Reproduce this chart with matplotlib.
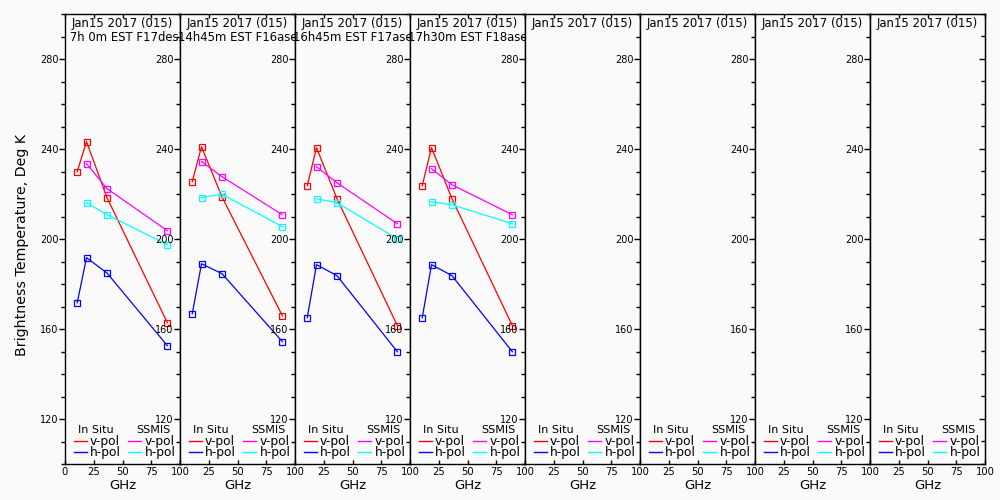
import matplotlib
matplotlib.use("Agg")
import matplotlib.pyplot as plt
from matplotlib.ticker import MultipleLocator

# ---- data ----
insitu_ghz = [10.65, 18.7, 36.5, 89.0]
ssmis_ghz = [18.7, 36.5, 89.0]

title_line1 = ["Jan15 2017 (015)"] * 8
title_line2 = [" 7h 0m EST F17des", "14h45m EST F16asc", "16h45m EST F17asc",
               "17h30m EST F18asc", "", "", "", ""]

insitu_v = [[230.0, 243.3, 218.4, 162.8],
            [225.5, 241.0, 218.7, 165.9],
            [223.7, 240.6, 217.9, 161.5],
            [223.7, 240.6, 217.9, 161.5],
            None, None, None, None]
insitu_h = [[171.7, 191.7, 184.9, 152.6],
            [166.8, 189.0, 184.6, 154.4],
            [165.0, 188.6, 183.7, 149.9],
            [165.0, 188.6, 183.7, 149.9],
            None, None, None, None]
ssmis_v = [[233.5, 222.4, 203.7],
           [234.4, 227.7, 210.8],
           [232.1, 225.0, 206.8],
           [231.2, 224.1, 210.8],
           None, None, None, None]
ssmis_h = [[216.1, 210.8, 197.5],
           [218.4, 219.9, 205.5],
           [217.9, 216.1, 200.1],
           [216.6, 215.2, 206.8],
           None, None, None, None]

x_ticks = [0, 25, 50, 75, 100]
y_ticks = [120, 160, 200, 240, 280]

C_INV = "#ff0000"
C_INH = "#0000ff"
C_SSV = "#ff00ff"
C_SSH = "#00ffff"
BG = "#fafafa"

plt.rcParams['font.family'] = ['DejaVu Sans']

fig = plt.figure(figsize=(10, 5), dpi=100, facecolor=BG)

left0 = 65 / 1000
pw = 115 / 1000
bottom = 36 / 500
height = 450 / 500

for i in range(8):
    ax = fig.add_axes([left0 + i * pw, bottom, pw, height])
    ax.set_facecolor(BG)
    ax.set_xlim(0, 100)
    ax.set_ylim(100, 300)
    for s in ax.spines.values():
        s.set_linewidth(1.0)
        s.set_color("black")

    ax.set_xticks(x_ticks)
    ax.set_xticklabels([("" if (i > 0 and t == 0) else str(t)) for t in x_ticks])
    ax.set_yticks(y_ticks)
    ax.set_yticklabels([str(t) for t in y_ticks])
    ax.yaxis.set_minor_locator(MultipleLocator(10))
    ax.tick_params(axis='x', which='major', direction='in', length=3, width=1,
                   top=True, bottom=True, labelsize=7.2, pad=2)
    ax.tick_params(axis='y', which='major', direction='out', length=4, width=1,
                   left=True, right=False, labelsize=7.0, pad=0.5)
    ax.tick_params(axis='y', which='minor', direction='out', length=3, width=1,
                   left=True, right=False)

    if insitu_v[i] is not None:
        ax.plot(insitu_ghz, insitu_v[i], color=C_INV, lw=0.9, marker='s', ms=3.8,
                mfc='none', mec=C_INV, mew=0.9)
        ax.plot(insitu_ghz, insitu_h[i], color=C_INH, lw=0.9, marker='s', ms=3.8,
                mfc='none', mec=C_INH, mew=0.9)
        ax.plot(ssmis_ghz, ssmis_v[i], color=C_SSV, lw=0.9, marker='s', ms=3.8,
                mfc='none', mec=C_SSV, mew=0.9)
        ax.plot(ssmis_ghz, ssmis_h[i], color=C_SSH, lw=0.9, marker='s', ms=3.8,
                mfc='none', mec=C_SSH, mew=0.9)

    # titles
    ax.text(0.5, 0.978, title_line1[i], transform=ax.transAxes, ha='center',
            va='center', fontsize=8.4, clip_on=False)
    if title_line2[i]:
        ax.text(0.5, 0.947, title_line2[i], transform=ax.transAxes, ha='center',
                va='center', fontsize=8.4, clip_on=False)

    # legend key
    ax.text(0.268, 0.0755, "In Situ", transform=ax.transAxes, ha='center',
            va='center', fontsize=8.0)
    ax.text(0.765, 0.0755, "SSMIS", transform=ax.transAxes, ha='center',
            va='center', fontsize=8.0)
    for (x0, x1, xt, ys, cols) in [(0.075, 0.187, 0.215, (0.0505, 0.026), (C_INV, C_INH)),
                                   (0.548, 0.665, 0.695, (0.0505, 0.026), (C_SSV, C_SSH))]:
        for yy, cc, lab in zip(ys, cols, ["v-pol", "h-pol"]):
            ax.plot([x0, x1], [yy, yy], color=cc, lw=1.0, transform=ax.transAxes)
            ax.text(xt, yy, lab, transform=ax.transAxes, ha='left', va='center',
                    fontsize=8.8)

    ax.set_xlabel("GHz", fontsize=9.5)
    ax.xaxis.set_label_coords(0.5, -0.0467)
    ax.xaxis.label.set_va('center')

    if i == 7:
        tw = ax.twinx()
        tw.set_ylim(100, 300)
        tw.set_yticks(y_ticks)
        tw.yaxis.set_minor_locator(MultipleLocator(10))
        tw.tick_params(axis='y', which='both', direction='in', length=3, width=1,
                       labelright=False)
        tw.tick_params(axis='y', which='major', length=4)

fig.text(0.0217, 0.51, "Brightness Temperature, Deg K", rotation=90,
         ha='center', va='center', fontsize=10.2)

fig.savefig("out.png", dpi=100, facecolor=BG)
